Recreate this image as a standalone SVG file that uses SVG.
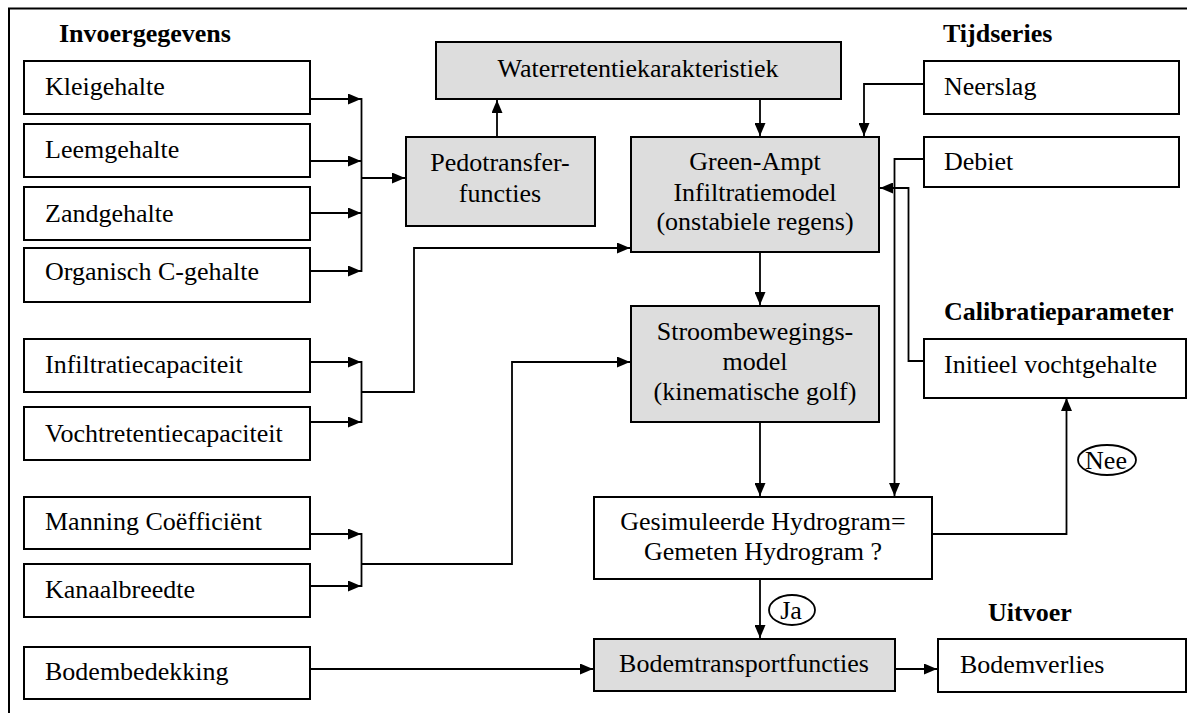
<svg xmlns="http://www.w3.org/2000/svg" width="1187" height="713" viewBox="0 0 1187 713">
<style>
.b{fill:#fff;stroke:#000;stroke-width:2}
.g{fill:#dddddd;stroke:#000;stroke-width:2}
.t text{font-size:26px;fill:#000}
.h{font-weight:bold}
.c{text-anchor:middle}
.ln{fill:none;stroke:#000;stroke-width:1.8}
.e{fill:#fff;stroke:#000;stroke-width:1.8}
</style>
<defs>
<marker id="a" markerWidth="13" markerHeight="11" refX="13" refY="5.5" orient="auto" markerUnits="userSpaceOnUse">
<path d="M0,0 L13,5.5 L0,11 Z" fill="#000"/>
</marker>
</defs>
<rect width="1187" height="713" fill="#fff"/>
<path d="M9,713 V8.5 H1187" fill="none" stroke="#000" stroke-width="2"/>
<g class="t" font-family="Liberation Serif, Times New Roman, DejaVu Serif, serif">
<text class="h" x="59" y="42">Invoergegevens</text>
<text class="h" x="943" y="42">Tijdseries</text>
<text class="h" x="944" y="320">Calibratieparameter</text>
<text class="h" x="988" y="621">Uitvoer</text>

<g id="klei"><rect class="b" x="24" y="61" width="286" height="53"/><text x="45" y="95">Kleigehalte</text></g>
<g id="leem"><rect class="b" x="24" y="124" width="286" height="53"/><text x="45" y="158">Leemgehalte</text></g>
<g id="zand"><rect class="b" x="24" y="187" width="286" height="53"/><text x="45" y="222">Zandgehalte</text></g>
<g id="organisch"><rect class="b" x="24" y="248" width="286" height="54"/><text x="45" y="280">Organisch C-gehalte</text></g>
<g id="infiltratie"><rect class="b" x="24" y="339" width="286" height="53"/><text x="45" y="373">Infiltratiecapaciteit</text></g>
<g id="vocht"><rect class="b" x="24" y="407" width="286" height="53"/><text x="45" y="442">Vochtretentiecapaciteit</text></g>
<g id="manning"><rect class="b" x="24" y="497" width="286" height="52"/><text x="45" y="530">Manning Coëfficiënt</text></g>
<g id="kanaal"><rect class="b" x="24" y="564" width="286" height="53"/><text x="45" y="598">Kanaalbreedte</text></g>
<g id="bodembedekking"><rect class="b" x="24" y="647" width="286" height="52"/><text x="45" y="680">Bodembedekking</text></g>

<g id="pedotransfer"><rect class="g" x="406" y="137" width="189" height="89"/><text class="c" x="500" y="171">Pedotransfer-</text><text class="c" x="500" y="202">functies</text></g>
<g id="waterretentie"><rect class="g" x="436" y="42" width="405" height="57"/><text class="c" x="638" y="77">Waterretentiekarakteristiek</text></g>
<g id="greenampt"><rect class="g" x="631" y="137" width="248" height="115"/><text class="c" x="755" y="170">Green-Ampt</text><text class="c" x="755" y="201">Infiltratiemodel</text><text class="c" x="755" y="230">(onstabiele regens)</text></g>
<g id="stroom"><rect class="g" x="631" y="306" width="248" height="116"/><text class="c" x="755" y="340">Stroombewegings-</text><text class="c" x="755" y="370">model</text><text class="c" x="755" y="400">(kinematische golf)</text></g>
<g id="gesimuleerd"><rect class="b" x="594" y="497" width="338" height="82"/><text class="c" x="763" y="530">Gesimuleerde Hydrogram=</text><text class="c" x="763" y="560">Gemeten Hydrogram ?</text></g>
<g id="bodemtransport"><rect class="g" x="594" y="639" width="301" height="52"/><text class="c" x="744" y="672">Bodemtransportfuncties</text></g>
<g id="bodemverlies"><rect class="b" x="938" y="639" width="248" height="53"/><text x="960" y="673">Bodemverlies</text></g>
<g id="neerslag"><rect class="b" x="924" y="61" width="255" height="53"/><text x="944" y="95">Neerslag</text></g>
<g id="debiet"><rect class="b" x="924" y="137" width="255" height="50"/><text x="944" y="170">Debiet</text></g>
<g id="initieel"><rect class="b" x="924" y="339" width="262" height="59"/><text x="944" y="373">Initieel vochtgehalte</text></g>

<g id="connectors">
<path class="ln" d="M310,99 H361" marker-end="url(#a)"/>
<path class="ln" d="M310,161 H361" marker-end="url(#a)"/>
<path class="ln" d="M310,213 H361" marker-end="url(#a)"/>
<path class="ln" d="M310,271 H361" marker-end="url(#a)"/>
<path class="ln" d="M361.5,98 V272"/>
<path class="ln" d="M361.5,178 H405" marker-end="url(#a)"/>
<path class="ln" d="M497,137 V100" marker-end="url(#a)"/>
<path class="ln" d="M760,99 V136" marker-end="url(#a)"/>

<path class="ln" d="M310,362 H361" marker-end="url(#a)"/>
<path class="ln" d="M310,422 H361" marker-end="url(#a)"/>
<path class="ln" d="M361.5,361 V423"/>
<path class="ln" d="M361.5,392 H414 V248 H630" marker-end="url(#a)"/>

<path class="ln" d="M310,534 H361" marker-end="url(#a)"/>
<path class="ln" d="M310,586 H361" marker-end="url(#a)"/>
<path class="ln" d="M361.5,533 V587"/>
<path class="ln" d="M361.5,564 H512 V362 H630" marker-end="url(#a)"/>

<path class="ln" d="M760,252 V305" marker-end="url(#a)"/>
<path class="ln" d="M760,422 V496" marker-end="url(#a)"/>
<path class="ln" d="M760,579 V638" marker-end="url(#a)"/>
<path class="ln" d="M310,669 H593" marker-end="url(#a)"/>
<path class="ln" d="M895,669 H937" marker-end="url(#a)"/>

<path class="ln" d="M924,84 H864 V136" marker-end="url(#a)"/>
<path class="ln" d="M924,159 H894.5 V496" marker-end="url(#a)"/>
<path class="ln" d="M924,361 H908.5 V188 H880" marker-end="url(#a)"/>
<path class="ln" d="M932,534 H1066.5 V398" marker-end="url(#a)"/>

<g id="ja"><ellipse class="e" cx="792" cy="610" rx="23" ry="15"/><text class="c" x="791" y="619">Ja</text></g>
<g id="nee"><ellipse class="e" cx="1107" cy="460" rx="29" ry="15"/><text class="c" x="1106" y="469">Nee</text></g>
</g>
</g>
</svg>
